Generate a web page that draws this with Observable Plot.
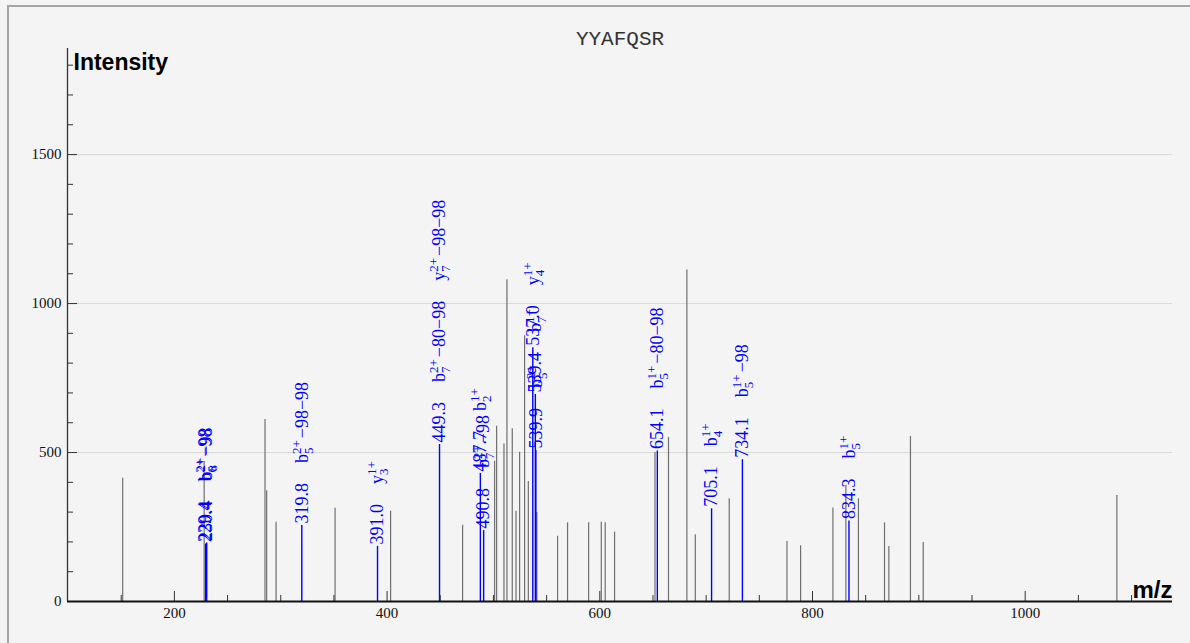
<!DOCTYPE html>
<html><head><meta charset="utf-8">
<script src="https://cdn.jsdelivr.net/npm/d3@7"></script>
<script src="https://cdn.jsdelivr.net/npm/@observablehq/plot@0.6"></script>
<style>
html,body{margin:0;padding:0;background:#f4f4f4;}
#wrap{position:relative;width:1190px;height:643px;overflow:hidden;background:#f4f4f4;}
#frame{position:absolute;left:7px;top:5px;width:1300px;height:800px;border-left:2px solid #a6a6a6;border-top:2px solid #a6a6a6;}
#chart{position:absolute;left:0;top:0;}
</style></head><body>
<div id="wrap"><div id="frame"></div><div id="chart"></div></div>
<script>
// ---- data ----
const title = "YYAFQSR";
const xLabel = "m/z";
const yLabel = "Intensity";
const xTicksMajor = [200, 400, 600, 800, 1000];
const yTicksMajor = [0, 500, 1000, 1500];
const xDomain = [99.5, 1138.5];
const yDomain = [0, 1856];

// unannotated peaks
const grayMz = [151.4, 228.0, 285.2, 286.8, 295.6, 351.1, 403.3, 471.0, 501.1, 503.0, 509.9, 512.7, 517.7, 521.2, 524.6, 529.3, 532.8, 540.8, 560.3, 569.7, 589.5, 601.4, 605.1, 613.9, 651.9, 664.6, 681.9, 689.8, 721.7, 776.0, 788.8, 819.2, 831.4, 843.2, 867.7, 871.8, 892.1, 904.1, 1086.2];
const grayIntensity = [414, 470, 611, 372, 266, 313, 303, 256, 471, 588, 529, 1080, 580, 303, 501, 892, 403, 299, 219, 264, 264, 266, 264, 233, 500, 551, 1113, 224, 345, 201, 187, 314, 390, 345, 264, 185, 554, 198, 356];

// annotated peaks
const annMz = [229.4, 230.4, 319.8, 391.0, 449.3, 487.7, 490.8, 537.0, 539.4, 539.9, 654.1, 705.1, 734.1, 834.3];
const annIntensity = [193, 196, 255, 185, 527, 430, 238, 852, 695, 507, 505, 311, 476, 270];
const annLabels = [
  ["229.4", "b_6^{2+}-98"],
  ["230.4", "b_8^{2+}-98"],
  ["319.8", "b_5^{2+}-98-98"],
  ["391.0", "y_3^{1+}"],
  ["449.3", "b_7^{2+}-80-98", "y_7^{2+}-98-98"],
  ["487.7", "b_2^{1+}"],
  ["490.8", "b_7^{2+}-98"],
  ["537.0", "y_4^{1+}"],
  ["539.4", "b_7^{1+}"],
  ["539.9", "b_5^{2+}"],
  ["654.1", "b_5^{1+}-80-98"],
  ["705.1", "b_4^{1+}"],
  ["734.1", "b_5^{1+}-98"],
  ["834.3", "b_5^{1+}"]
];

// ---- layout ----
const W = 1190, H = 643, ML = 67, MR = 18, MT = 48, MB = 42;
const frameW = W - ML - MR, frameH = H - MT - MB;

// ---- helpers ----
const BIG = 18, SMALL = 13, GAP = 20, FONT = "Liberation Serif, Times New Roman, serif";
const ctx = document.createElement("canvas").getContext("2d");
function tw(s, size) { ctx.font = `${size}px "Liberation Serif"`; return ctx.measureText(s).width; }
const LBL_RE = /^([A-Za-z]+)_(\w+)\^\{([^}]*)\}(.*)$/;
function parse(lbl) {
  const m = lbl.match(LBL_RE);
  if (!m) return {base: lbl};
  return {base: m[1], sub: m[2], sup: m[3], rest: m[4].replace(/-/g, "\u2212")};
}
function labelWidth(lbl) {
  const p = parse(lbl);
  if (!p.sub) return tw(p.base, BIG);
  return tw(p.base, BIG) + Math.max(tw(p.sub, SMALL), tw(p.sup, SMALL)) + (p.rest ? 2 + tw(p.rest, BIG) : 0);
}

const grayPeaks = grayMz.map((mz, i) => ({mz, inten: grayIntensity[i]}));
const annPeaks = annMz.map((mz, i) => ({mz, inten: annIntensity[i]}));

const labelRows = [];
annMz.forEach((mz, i) => {
  let off = 2;
  annLabels[i].forEach(t => {
    labelRows.push({mz, inten: annIntensity[i], text: t, dy: -off});
    off += labelWidth(t) + GAP;
  });
});

const xMinor = d3.range(150, 1101, 50).filter(v => !xTicksMajor.includes(v));
const yMinor = d3.range(100, 1801, 100).filter(v => !yTicksMajor.includes(v));

const labelMarks = labelRows.map(r => Plot.text([r], {
  x: "mz", y: "inten", text: "text", rotate: -90, textAnchor: "start", dy: r.dy,
  fill: "#0000ff", fontSize: BIG, fontFamily: FONT
}));

const tickStroke = {stroke: "#333", strokeWidth: 1};
const chart = Plot.plot({
  width: W, height: H,
  marginLeft: ML, marginRight: MR, marginTop: MT, marginBottom: MB,
  style: {background: "transparent", fontFamily: FONT},
  x: {domain: xDomain},
  y: {domain: yDomain},
  marks: [
    Plot.ruleY(yTicksMajor.filter(v => v > 0), {stroke: "#d9d9d9", strokeWidth: 1}),
    Plot.ruleX(grayPeaks, {x: "mz", y1: 0, y2: "inten", stroke: "#6f6f6f", strokeWidth: 1.2}),
    Plot.ruleX(annPeaks, {x: "mz", y1: 0, y2: "inten", stroke: "#0000ff", strokeWidth: 1.4}),
    ...labelMarks,
    // inward tick marks
    Plot.ruleX(xTicksMajor, {x: d => d, insetTop: frameH - 10, ...tickStroke}),
    Plot.ruleX(xMinor, {x: d => d, insetTop: frameH - 6, ...tickStroke}),
    Plot.ruleY(yTicksMajor, {y: d => d, insetRight: frameW - 10, ...tickStroke}),
    Plot.ruleY(yMinor, {y: d => d, insetRight: frameW - 6, ...tickStroke}),
    // axis lines
    Plot.ruleY([yDomain[0]], {stroke: "#111", strokeWidth: 1.8}),
    Plot.ruleX([xDomain[0]], {stroke: "#333", strokeWidth: 1.3}),
    Plot.axisX(xTicksMajor, {tickSize: 0, tickPadding: 6, tickFormat: d => String(d), fontSize: 15, fontFamily: FONT, fill: "#111", label: null}),
    Plot.axisY(yTicksMajor, {tickSize: 0, tickPadding: 6, tickFormat: d => String(d), fontSize: 15, fontFamily: FONT, fill: "#111", label: null}),
    Plot.text([title], {text: d => d, frameAnchor: "top", lineAnchor: "middle", dy: -10, fontFamily: "Liberation Mono, monospace", fontSize: 21, fill: "#333"}),
    Plot.text([yLabel], {text: d => d, frameAnchor: "top-left", lineAnchor: "middle", dx: 6, dy: 14, textAnchor: "start", fontWeight: "bold", fontSize: 23, fontFamily: "Liberation Sans, Arial, sans-serif", fill: "#000"}),
    Plot.text([xLabel], {text: d => d, frameAnchor: "bottom-right", lineAnchor: "middle", dy: -11, textAnchor: "end", fontWeight: "bold", fontSize: 24, fontFamily: "Liberation Sans, Arial, sans-serif", fill: "#000"})
  ]
});
document.getElementById("chart").appendChild(chart);

// sub/superscript rendering for ion labels
const NS = "http://www.w3.org/2000/svg";
chart.querySelectorAll("text").forEach(el => {
  if (el.children.length) return;
  const p = parse(el.textContent);
  if (!p.sub) return;
  el.textContent = "";
  const add = (s, attrs) => { const t = document.createElementNS(NS, "tspan"); t.textContent = s; for (const k in attrs) t.setAttribute(k, attrs[k]); el.appendChild(t); };
  const subW = tw(p.sub, SMALL), supW = tw(p.sup, SMALL);
  add(p.base, {});
  add(p.sub, {"font-size": SMALL, dy: 5});
  add(p.sup, {"font-size": SMALL, dx: -subW, dy: -12});
  if (p.rest) add(p.rest, {dx: Math.max(0, subW - supW) + 2, dy: 7});
});
</script>
</body></html>
